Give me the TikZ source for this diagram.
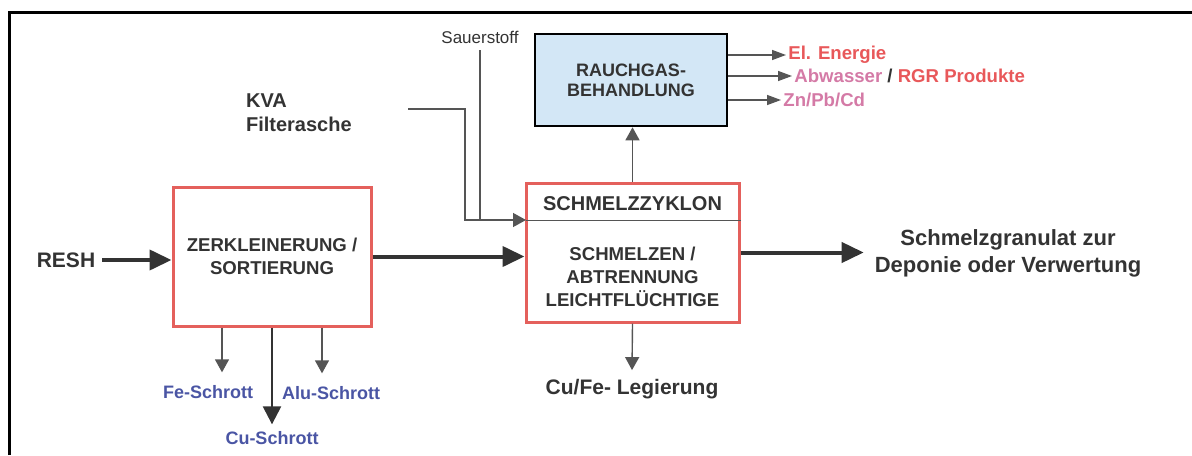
\documentclass[tikz,border=0pt]{standalone}
\usepackage{fontspec}
\setmainfont{Liberation Sans}
\usepackage{xcolor}
\usetikzlibrary{arrows.meta}
\definecolor{boxred}{HTML}{E4605C}
\definecolor{gasblue}{HTML}{D3E7F6}
\definecolor{txtgray}{HTML}{333333}
\definecolor{linegray}{HTML}{555555}
\definecolor{outred}{HTML}{E8585A}
\definecolor{outpink}{HTML}{D47AA6}
\definecolor{scrapblue}{HTML}{4A55A4}
\tikzset{redbox/.style={draw=boxred, line width=1.5pt, minimum width=#1, minimum height=69.5pt},
  boxtext/.style={text=txtgray, font=\fontsize{9.3}{11.5}\selectfont\bfseries, align=center},
  bigtext/.style={text=txtgray, font=\fontsize{10.5}{13.5}\selectfont\bfseries},
  smalltext/.style={font=\fontsize{9.3}{11}\selectfont\bfseries},
  fatarrow/.style={draw=txtgray, line width=2pt, -{Triangle[length=11pt,width=10pt]}},
  thinarrow/.style={draw=linegray, line width=0.7pt, -{Triangle[length=6.5pt,width=7pt]}},
  outarrow/.style={draw=linegray, line width=0.7pt, -{Triangle[length=7pt,width=5pt]}}}

\begin{document}
\begin{tikzpicture}[x=0.5pt,y=-0.5pt]
  \useasboundingbox (0,0) rectangle (1192,455);
  \draw[line width=1.5pt] (9,455) -- (9,12) -- (1192,12);
  % boxes
  \node[redbox=99pt] (zerk) at (272,256.5) {};
  \node[boxtext] at (zerk) {ZERKLEINERUNG /\\SORTIERUNG};
  \node[redbox=106.5pt] (schmelz) at (632.5,252.5) {};
  \node[boxtext, font=\fontsize{10}{11.5}\selectfont\bfseries] (zyklon) at (632.5,204) {SCHMELZZYKLON};
  \node[boxtext] (abtr) at (632.5,277) {SCHMELZEN /\\ABTRENNUNG\\LEICHTFLÜCHTIGE};
  \node[draw=black, line width=1.3pt, fill=gasblue, minimum width=96pt, minimum height=46pt,
    boxtext, font=\fontsize{9}{10}\selectfont\bfseries] (gas) at (631,80) {RAUCHGAS-\\BEHANDLUNG};
  % inputs
  \node[bigtext] (resh) at (66,260) {RESH};
  \node[bigtext, anchor=west, align=left, font=\fontsize{10}{12}\selectfont\bfseries] (kva) at (239,113) {KVA\\Filterasche};
  \node[text=txtgray, font=\fontsize{8.5}{10}\selectfont] (sauer) at (480,37) {Sauerstoff};
  \coordinate (kvastart) at (408,109);
  \coordinate (zykin) at (526,220);
  % outputs
  \node[bigtext, align=center, font=\fontsize{11}{13.5}\selectfont\bfseries] (granulat) at (1008,253) {Schmelzgranulat zur\\Deponie oder Verwertung};
  \node[bigtext] (legierung) at (632,389) {Cu/Fe- Legierung};
  \node[smalltext, text=outred, anchor=west, inner sep=1pt] (energie) at (786,55) {El. Energie};
  \node[smalltext, anchor=west, inner sep=1pt] (abwasser) at (792,76) {\textcolor{outpink}{Abwasser} \textcolor{txtgray}{/} \textcolor{outred}{RGR Produkte}};
  \node[smalltext, text=outpink, anchor=west, inner sep=1pt] (znpb) at (781,100) {Zn/Pb/Cd};
  \node[smalltext, text=scrapblue, font=\fontsize{9}{10}\selectfont\bfseries] (fe) at (208,392) {Fe-Schrott};
  \node[smalltext, text=scrapblue, font=\fontsize{9}{10}\selectfont\bfseries] (alu) at (331,393) {Alu-Schrott};
  \node[smalltext, text=scrapblue, font=\fontsize{9}{10}\selectfont\bfseries] (cu) at (272,438) {Cu-Schrott};
  % connectors
  \draw[fatarrow] (resh.east) -- (resh.east -| zerk.west);
  \draw[fatarrow] (zerk.east) -- (zerk.east -| schmelz.west);
  \draw[fatarrow] (schmelz.east) -- ([xshift=-2pt]schmelz.east -| granulat.west);
  \draw[thinarrow] (kvastart) -| (465,220) -- (zykin);
  \draw[draw=linegray, line width=0.7pt] (sauer.south) -- (sauer.south |- zykin);
  \draw[draw=linegray, line width=0.5pt] (zykin) -- (zykin -| schmelz.east);
  \draw[thinarrow] (schmelz.north) -- (schmelz.north |- gas.south);
  \draw[thinarrow] (schmelz.south) -- ([yshift=1pt]legierung.north);
  \draw[outarrow] (gas.east |- energie) -- (energie.west);
  \draw[outarrow] (gas.east |- abwasser) -- (abwasser.west);
  \draw[outarrow] (gas.east |- znpb) -- (znpb.west);
  \draw[thinarrow] ([xshift=-25pt]zerk.south) -- ([xshift=-25pt,yshift=3pt]zerk.south |- fe.north);
  \draw[thinarrow] ([xshift=25pt]zerk.south) -- ([xshift=25pt,yshift=3pt]zerk.south |- alu.north);
  \draw[fatarrow, line width=1.2pt, -{Triangle[length=9pt,width=9pt]}] (zerk.south) -- (cu.north);
\end{tikzpicture}
\end{document}
